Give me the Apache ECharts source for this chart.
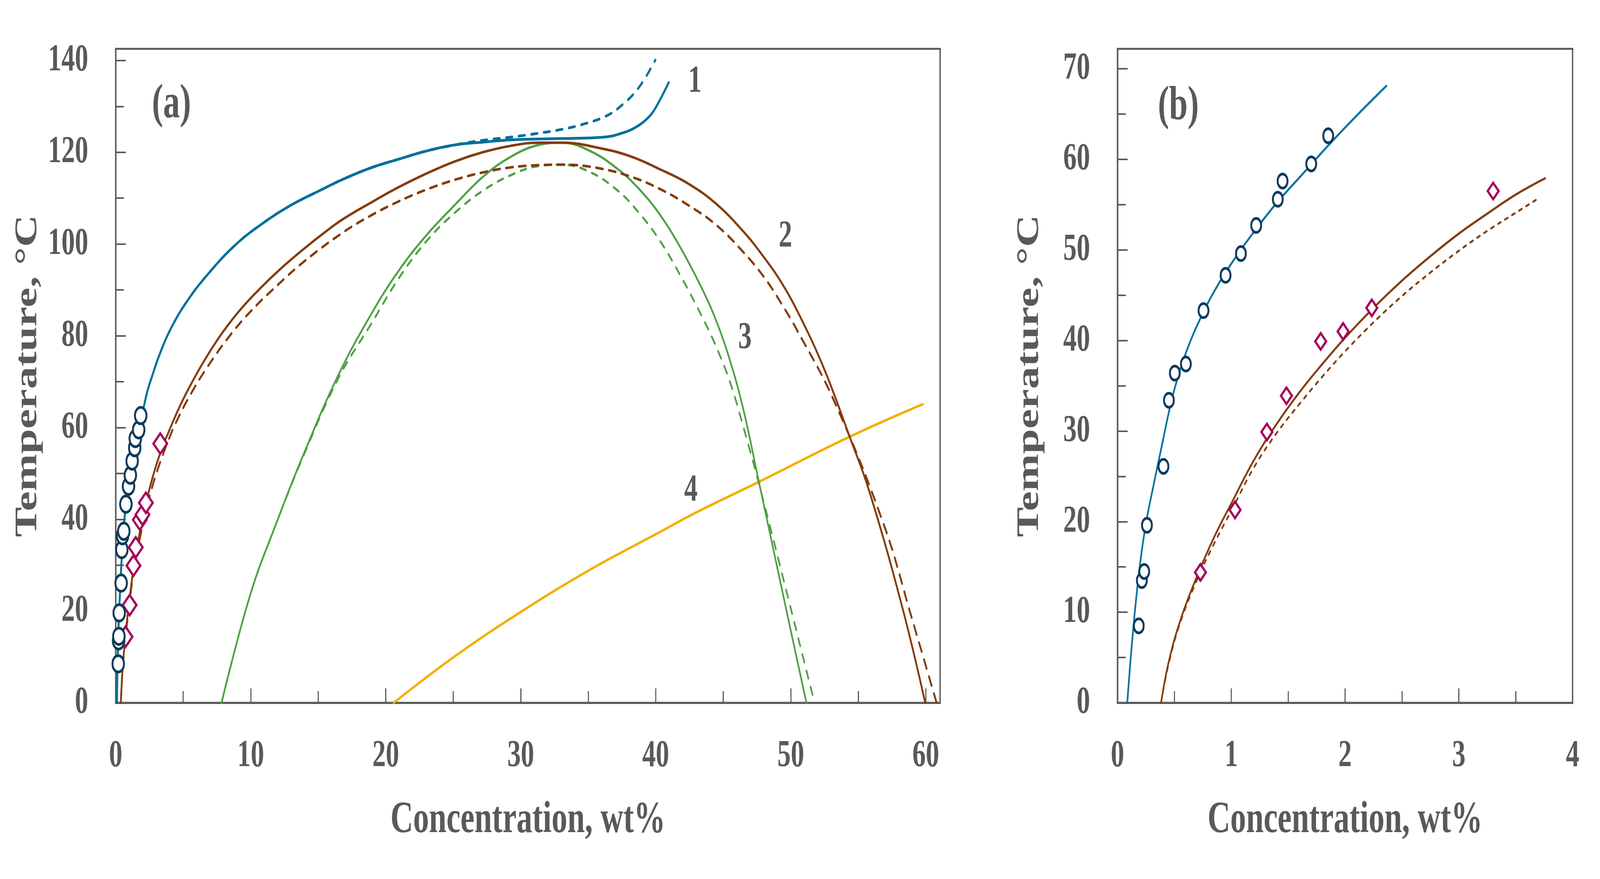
<!DOCTYPE html>
<html>
<head>
<meta charset="utf-8">
<script src="https://cdn.jsdelivr.net/npm/echarts@6/dist/echarts.min.js"></script>
<style>
html,body{margin:0;padding:0;background:#fff;overflow:hidden;}
#chart{width:5836px;height:2250px;transform-origin:0 0;}
</style>
</head>
<body>
<div id="chart"></div>
<script>
// ---------- data (concentration wt%, temperature °C) ----------
const blueLow = [[0.086,0],[0.12,5.5],[0.16,11.0],[0.2,15.5],[0.25,19.8],[0.3,23.0],[0.4,29.0],[0.45,32.0],[0.5,34.6],[0.6,38.6],[0.75,43.0],[0.9,46.5],[1.05,49.4],[1.2,52.0],[1.4,55.2],[1.6,58.0],[1.85,61.5],[2.1,64.8],[2.363,68.1]];
const blueHigh = [[2.64,70.7],[3.26,76.0],[4.09,81.6],[5.23,87.3],[6.79,93.3],[8.86,99.8],[10.93,104.6],[13.0,108.5],[15.07,111.6],[16.82,114.1],[18.89,116.6],[20.96,118.5],[23.04,120.3],[25.11,121.6],[27.18,122.2],[29.25,122.7],[31.32,122.9],[33.06,123.0],[36.17,123.3],[37.73,124.4],[38.76,125.9],[39.49,127.7],[39.97,129.6],[40.96,135.2]];
const blueDashHigh = [[27.18,122.6],[29.25,123.3],[30.29,123.7],[33.06,125.0],[34.6,126.1],[36.17,127.7],[37.26,129.7],[38.69,133.9],[39.97,140.1]];
const brownLow = [[0.383,0],[0.45,4.5],[0.55,9.0],[0.7,14.0],[0.85,18.3],[1.0,22.0],[1.2,26.8],[1.4,30.8],[1.6,34.3],[1.8,37.4],[2.0,40.3],[2.25,43.6],[2.5,46.6],[2.75,49.3],[3.0,51.8],[3.25,54.0],[3.5,56.1],[3.758,57.9]];
const brownHigh = [[4.71,64.4],[5.75,70.4],[6.79,75.7],[8.03,81.2],[9.38,86.2],[10.93,91.0],[12.48,95.3],[14.04,99.2],[15.59,102.8],[16.82,105.4],[18.89,109.0],[20.96,112.4],[23.04,115.4],[25.11,118.0],[27.18,120.0],[29.25,121.4],[31.32,122.1],[33.06,122.1],[36.17,120.7],[38.24,119.0],[40.31,116.3],[42.39,113.2],[44.46,108.8],[46.53,102.6],[48.09,96.8],[49.31,91.6],[50.45,85.6],[52.4,73.3],[54.36,58.0],[55.86,45.7],[58.28,20.6],[59.96,0]];
const brownDashLow = [[0.383,0],[0.45,4.3],[0.55,8.8],[0.7,13.6],[0.85,17.6],[1.0,21.2],[1.2,26.0],[1.4,29.8],[1.6,33.0],[1.8,36.0],[2.0,38.8],[2.25,42.0],[2.5,44.9],[2.75,47.5],[3.0,49.9],[3.25,52.1],[3.5,54.1],[3.713,55.8]];
const brownDashHigh = [[4.40,60.7],[5.54,67.2],[6.79,73.2],[8.34,79.6],[9.89,85.0],[11.97,91.0],[14.04,96.4],[16.82,102.5],[18.89,106.2],[20.96,109.3],[23.04,111.9],[25.11,114.0],[27.18,115.6],[29.25,116.7],[31.32,117.2],[33.06,117.3],[35.66,116.6],[38.24,114.6],[40.31,112.0],[42.39,108.5],[44.46,104.2],[46.53,98.1],[48.09,92.5],[49.31,87.0],[50.45,81.3],[53.13,66.3],[56.86,39.1],[58.99,18.2],[60.8,0]];
const greenSolid = [[7.84,0],[9.97,23.6],[11.97,39.7],[13.96,54.5],[16.5,71.5],[18.9,84.6],[20.96,94.2],[23.04,102.0],[25.11,108.5],[27.18,114.6],[29.25,119.0],[31.32,121.6],[33.06,122.1],[35.13,120.3],[37.2,116.3],[38.76,112.0],[40.31,106.4],[41.87,99.0],[43.42,90.3],[44.46,83.4],[45.5,74.6],[46.5,63.8],[47.6,48.7],[49.74,19.3],[51.16,0]];
const greenDash = [[7.84,0],[9.97,23.6],[11.97,39.7],[13.96,54.2],[16.5,70.8],[18.9,82.5],[20.96,92.5],[23.04,100.7],[25.11,106.8],[27.18,111.6],[29.25,115.0],[31.32,117.0],[33.06,117.3],[35.13,115.7],[37.2,111.6],[38.76,106.8],[40.31,100.7],[41.87,92.9],[43.42,84.2],[44.46,77.7],[45.5,69.9],[46.5,60.0],[47.88,45.1],[49.74,23.6],[51.16,7.0],[51.76,0]];
const orangeLine = [[20.59,0],[25.15,10.2],[30.0,19.8],[35.12,29.0],[39.97,36.7],[43.2,41.8],[47.6,48.1],[54.36,58.0],[59.78,65.1]];
const circlePts = [[0.187,8.5],[0.214,13.5],[0.235,14.5],[0.259,19.6],[0.404,26.1],[0.452,33.4],[0.504,36.4],[0.601,37.4],[0.756,43.3],[0.950,47.2],[1.085,49.6],[1.219,52.7],[1.409,55.6],[1.451,57.6],[1.703,59.5],[1.852,62.6]];
const diamondPts = [[0.729,14.4],[1.033,21.3],[1.313,29.9],[1.485,33.9],[1.786,39.9],[1.983,41.0],[2.235,43.6],[3.302,56.5]];
const labelsA = [[4.13,130.3,'(a)'],[42.9,135.3,'1'],[49.6,101.6,'2'],[46.6,79.5,'3'],[42.6,46.3,'4']];
const labelsB = [[0.535,65.8,'(b)']];
const xTitle = 'Concentration, wt%';
const yTitle = 'Temperature, °C';

// ---------- page size: the chart is laid out for 5836x2250 and fitted to the window ----------
const W = 5836, H = 2250;
const el = document.getElementById('chart');
const sx = (window.innerWidth || W) / W, sy = (window.innerHeight || H) / H;
if (Math.abs(sx - 1) > 0.001 || Math.abs(sy - 1) > 0.001) {
  el.style.transform = 'scale(' + sx + ',' + sy + ')';
}

// ---------- styles ----------
const TXT = '#595959';
const FONT = '"Liberation Serif", "Times New Roman", serif';
const C_BLUE = '#00709b', C_BROWN = '#843c0c', C_GREEN = '#4fa044', C_ORANGE = '#f4ae00';
const C_NAVY = '#0d3a5c', C_CRIMSON = '#a5005a';

function mainX(gi, max, interval){
  return {gridIndex: gi, type:'value', min:0, max:max, interval:interval, position:'bottom',
    axisLine:{show:true, onZero:false, lineStyle:{color:TXT, width:5}},
    axisTick:{show:true, inside:true, length:37, lineStyle:{color:TXT, width:4}},
    axisLabel:{show:true, margin:88, fontSize:98, fontWeight:'bold', color:TXT, fontFamily:FONT, showMaxLabel: max % interval === 0},
    splitLine:{show:false},
    name: xTitle, nameLocation:'middle', nameGap:244,
    nameTextStyle:{fontSize:115, fontWeight:'bold', color:TXT, fontFamily:FONT}};
}
function minorX(gi, max, interval){
  return {gridIndex: gi, type:'value', min:0, max:max, interval:interval, position:'bottom',
    axisLine:{show:false}, axisTick:{show:true, inside:true, length:30, lineStyle:{color:TXT, width:4}},
    axisLabel:{show:false}, splitLine:{show:false}};
}
function mainY(gi, max, interval){
  return {gridIndex: gi, type:'value', min:0, max:max, interval:interval, position:'left',
    axisLine:{show:true, onZero:false, lineStyle:{color:TXT, width:5}},
    axisTick:{show:true, inside:true, length:37, lineStyle:{color:TXT, width:4}},
    axisLabel:{show:true, margin:100, fontSize:98, fontWeight:'bold', color:TXT, fontFamily:FONT, showMaxLabel:false},
    splitLine:{show:false},
    name: yTitle, nameLocation:'middle', nameGap:262, nameRotate:90,
    nameTextStyle:{fontSize:115, fontWeight:'bold', color:TXT, fontFamily:FONT}};
}
function minorY(gi, max, interval){
  return {gridIndex: gi, type:'value', min:0, max:max, interval:interval, position:'left',
    axisLine:{show:false}, axisTick:{show:true, inside:true, length:30, lineStyle:{color:TXT, width:4}},
    axisLabel:{show:false}, splitLine:{show:false}};
}
function line(xi, data, color, width, dash, z){
  return {type:'line', xAxisIndex:xi, yAxisIndex:xi, data:data, smooth:0.4, symbol:'none', showSymbol:false,
    lineStyle:{color:color, width:width, type: dash || 'solid', cap:'round', opacity:1}, z:z||2, silent:true, animation:false};
}
function markers(xi, data, symbol, size, color){
  return {type:'scatter', xAxisIndex:xi, yAxisIndex:xi, data:data, symbol:symbol, symbolSize:size,
    itemStyle:{color:'#ffffff', borderColor:color, borderWidth:7, opacity:1}, z:5, silent:true, animation:false};
}
function labels(xi, data, bigSize){
  return {type:'scatter', xAxisIndex:xi, yAxisIndex:xi, symbolSize:0, z:6, silent:true, animation:false,
    itemStyle:{opacity:1},
    data: data.map(d => ({value:[d[0], d[1]], name:d[2],
      label:{fontSize: d[2].length > 1 ? bigSize : 98}})),
    label:{show:true, position:'inside', formatter: p => p.name, color:TXT, fontFamily:FONT, fontWeight:'bold', opacity:1}};
}

const chart = echarts.init(el, null, {renderer:'canvas', width:W, height:H});

chart.setOption({
  backgroundColor:'#ffffff',
  animation:false,
  grid:[
    {left:422, top:125, width:3007, height:1674, show:true, borderColor:TXT, borderWidth:5, backgroundColor:'transparent'},
    {left:4076, top:125, width:1660, height:1674, show:true, borderColor:TXT, borderWidth:5, backgroundColor:'transparent'}
  ],
  xAxis:[ mainX(0, 61.06, 10), minorX(0, 61.06, 5), mainX(1, 4, 1), minorX(1, 4, 0.5) ],
  yAxis:[ mainY(0, 142.55, 20), minorY(0, 142.55, 10), mainY(1, 72.2, 10), minorY(1, 72.2, 5) ],
  series:[
    // panel (a)
    line(0, orangeLine, C_ORANGE, 6.5),
    line(0, greenDash, C_GREEN, 6, [21,23]),
    line(0, greenSolid, C_GREEN, 6),
    line(0, brownDashLow.concat(brownDashHigh), C_BROWN, 6.5, [25,22]),
    line(0, brownLow.concat(brownHigh), C_BROWN, 6.5),
    line(0, blueLow.concat(blueHigh.filter(p => p[0] < 26)).concat(blueDashHigh), C_BLUE, 7, [22,24]),
    line(0, blueLow.concat(blueHigh), C_BLUE, 7),
    markers(0, diamondPts, 'diamond', [50,52], C_CRIMSON),
    markers(0, circlePts, 'circle', 42, C_NAVY),
    labels(0, labelsA, 122),
    // panel (b)
    line(2, brownDashLow, C_BROWN, 5.5, [11,17]),
    line(2, brownLow, C_BROWN, 6),
    line(2, blueLow, C_BLUE, 6),
    markers(2, diamondPts, 'diamond', [40,42], C_CRIMSON),
    markers(2, circlePts, 'circle', 36, C_NAVY),
    labels(2, labelsB, 122)
  ]
});
</script>
</body>
</html>
